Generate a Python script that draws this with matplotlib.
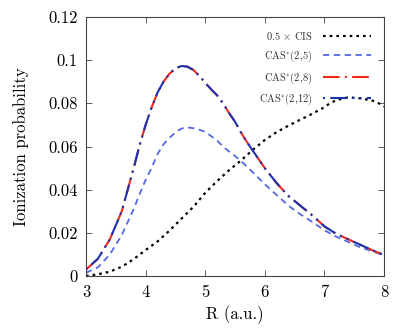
import matplotlib
matplotlib.use("Agg")
import matplotlib.pyplot as plt

plt.rcParams['font.family'] = 'serif'
plt.rcParams['font.serif'] = ['cmr10', 'DejaVu Serif']
plt.rcParams['mathtext.fontset'] = 'cm'
plt.rcParams['axes.unicode_minus'] = False

R_cis = [3.0, 3.2, 3.4, 3.6, 3.8, 4.0, 4.2, 4.4, 4.6, 4.8, 5.0, 5.2, 5.4, 5.6, 5.8,
         6.0, 6.2, 6.4, 6.6, 6.8, 7.0, 7.1, 7.2, 7.3, 7.4, 7.6, 7.8, 7.9, 8.0]
cis = [0.0, 0.0008, 0.002, 0.0043, 0.0078, 0.012, 0.016, 0.021, 0.0265, 0.032,
       0.0385, 0.044, 0.049, 0.0535, 0.0585, 0.063, 0.0667, 0.0697, 0.0725, 0.0752,
       0.0782, 0.0802, 0.0814, 0.0822, 0.0828, 0.0823, 0.0813, 0.0802, 0.0785]

R_cas = [3.0, 3.2, 3.4, 3.6, 3.8, 3.9, 4.0, 4.1, 4.2, 4.3, 4.4, 4.5, 4.6, 4.7, 4.8,
         4.9, 5.0, 5.1, 5.2, 5.3, 5.4, 5.5, 5.6, 5.7, 5.8, 6.0, 6.2, 6.4, 6.6, 6.8,
         7.0, 7.2, 7.4, 7.6, 7.8, 8.0]
cas25 = [0.0015, 0.004, 0.010, 0.019, 0.031, 0.038, 0.0445, 0.050, 0.0565, 0.061,
         0.064, 0.0665, 0.0683, 0.0688, 0.0685, 0.0678, 0.0668, 0.0648, 0.0627,
         0.060, 0.0577, 0.0556, 0.0533, 0.0507, 0.048, 0.0425, 0.0375, 0.0325,
         0.0285, 0.025, 0.0212, 0.0182, 0.0158, 0.0133, 0.0115, 0.0095]
cas28 = [0.003, 0.008, 0.017, 0.030, 0.050, 0.0607, 0.070, 0.078, 0.085, 0.090,
         0.0937, 0.0962, 0.0973, 0.097, 0.0955, 0.0928, 0.0895, 0.0865, 0.0837,
         0.080, 0.0755, 0.0715, 0.0665, 0.0621, 0.058, 0.050, 0.043, 0.037, 0.0325,
         0.028, 0.023, 0.0195, 0.017, 0.0145, 0.012, 0.0097]
cas212 = [0.003, 0.008, 0.017, 0.030, 0.050, 0.0607, 0.070, 0.078, 0.085, 0.090,
          0.0937, 0.0962, 0.0973, 0.097, 0.0955, 0.0928, 0.0895, 0.0865, 0.0837,
          0.080, 0.0755, 0.0715, 0.0665, 0.0621, 0.058, 0.050, 0.043, 0.037, 0.0325,
          0.028, 0.023, 0.0195, 0.017, 0.0145, 0.012, 0.0097]

xticks = [3, 4, 5, 6, 7, 8]
yticks = [0, 0.02, 0.04, 0.06, 0.08, 0.1, 0.12]
ytick_labels = ['0', '0.02', '0.04', '0.06', '0.08', '0.1', '0.12']
labels = [r'0.5 $\times$ CIS', r'CAS$^{*}$(2,5)', r'CAS$^{*}$(2,8)', r'CAS$^{*}$(2,12)']

fig = plt.figure(figsize=(4.16, 3.33), dpi=100)
ax = fig.add_axes([86/416, 1 - 276/333, (384-86)/416, (276-17)/333])

ax.plot(R_cis, cis, color='black', lw=1.6, linestyle=(0, (1.2, 1.8)), label=labels[0])
ax.plot(R_cas, cas25, color='#5468e0', lw=1.3, linestyle=(0, (3.5, 2.5)), label=labels[1])
ax.plot(R_cas, cas28, color='#ee2a1a', lw=1.5, linestyle=(0, (8, 2.5, 1, 2.5)), label=labels[2])
ax.plot(R_cas, cas212, color='#1a34b0', lw=1.5, linestyle=(0, (1, 2.5, 8, 2.5, 1, 2.5)), label=labels[3])

ax.set_xlim(3, 8)
ax.set_ylim(0, 0.12)
ax.set_xticks(xticks)
ax.set_xticklabels([str(t) for t in xticks])
ax.set_yticks(yticks)
ax.set_yticklabels(ytick_labels)
ax.tick_params(direction='in', top=True, right=True, length=4, width=0.6,
               color='#444444', labelsize=12, pad=6)
for s in ax.spines.values():
    s.set_color('#444444')
    s.set_linewidth(0.8)

ax.set_xlabel('R (a.u.)', fontsize=12, labelpad=4)
ax.set_ylabel('Ionization probability', fontsize=12, labelpad=14)

leg = ax.legend(loc='upper right', frameon=False, markerfirst=False, fontsize=7.5,
                handlelength=4.6, handletextpad=1.0, labelspacing=0.62,
                borderaxespad=0.85)
for t in leg.get_texts():
    t.set_color('#333333')

fig.savefig('out.png', dpi=100)
